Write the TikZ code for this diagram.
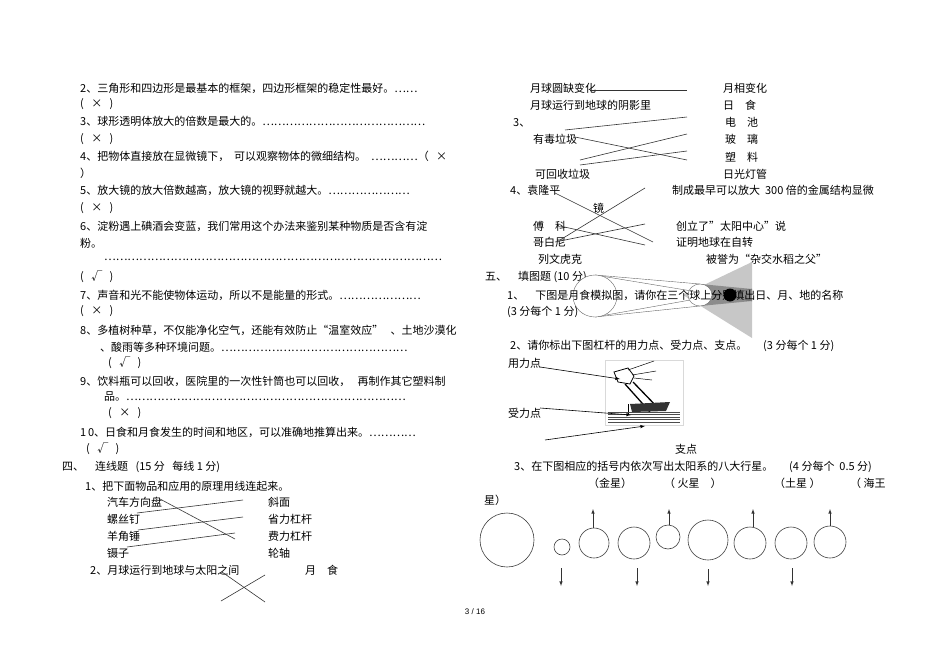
\documentclass[tikz,border=0pt]{standalone}
\usepackage{fontspec}
\setmainfont{Liberation Sans}
\newfontfamily\cjk{Noto Sans CJK SC}
\newcommand{\bx}[1]{(\ \ \ #1\ \ \ )}
\begin{document}
\begin{tikzpicture}[x=1pt,y=-1pt,
  t/.style={anchor=west,inner sep=0pt,font=\cjk\fontsize{11}{12}\selectfont},
  pl/.style={draw=black!80,line width=0.6pt},
  ar/.style={->,>=latex,line width=0.6pt}]
\useasboundingbox (0,0) rectangle (950,658);
% left column
\node[t] (a1) at (80,88) {2、三角形和四边形是最基本的框架，四边形框架的稳定性最好。……};
\node[t] (a2) at (80,104) {\bx{×}};
\node[t] (a3) at (80,121) {3、球形透明体放大的倍数是最大的。……………………………………};
\node[t] (a4) at (80,139) {\bx{×}};
\node[t] (a5) at (80,156) {4、把物体直接放在显微镜下，\ \ 可以观察物体的微细结构。\ \ …………（\ \ \ ×};
\node[t] (a6) at (80,173) {）};
\node[t] (a7) at (80,190) {5、放大镜的放大倍数越高，放大镜的视野就越大。…………………};
\node[t] (a8) at (80,208) {\bx{×}};
\node[t] (a9) at (80,226) {6、淀粉遇上碘酒会变蓝，我们常用这个办法来鉴别某种物质是否含有淀};
\node[t] (a10) at (80,243) {粉。};
\node[t] (a11) at (104,260) {……………………………………………………………………………};
\node[t] (a12) at (80,277) {\bx{√}};
\node[t] (a13) at (80,295) {7、声音和光不能使物体运动，所以不是能量的形式。…………………};
\node[t] (a14) at (80,311) {\bx{×}};
\node[t] (a15) at (80,330) {8、多植树种草，不仅能净化空气，还能有效防止“温室效应”\ \ \ 、土地沙漠化};
\node[t] (a16) at (100,347) {、酸雨等多种环境问题。…………………………………………};
\node[t] (a17) at (108,363) {\bx{√}};
\node[t] (a18) at (80,381) {9、饮料瓶可以回收，医院里的一次性针筒也可以回收，\ \ \ 再制作其它塑料制};
\node[t] (a19) at (104,397) {品。………………………………………………………………};
\node[t] (a20) at (108,413) {\bx{×}};
\node[t] (a21) at (80,432) {1\,0、日食和月食发生的时间和地区，可以准确地推算出来。…………};
\node[t] (a22) at (86,449) {\bx{√}};
\node[t] (s4) at (62,467) {四、\quad 连线题\ \ \ (15 分\ \ \ 每线 1 分)};
\node[t] (q41) at (85,486) {1、把下面物品和应用的原理用线连起来。};
\node[t] (l1) at (107,502) {汽车方向盘};
\node[t] (l2) at (107,519) {螺丝钉};
\node[t] (l3) at (107,536) {羊角锤};
\node[t] (l4) at (107,553) {镊子};
\node[t] (r1) at (268,502) {斜面};
\node[t] (r2) at (268,519) {省力杠杆};
\node[t] (r3) at (268,536) {费力杠杆};
\node[t] (r4) at (268,553) {轮轴};
\node[t] (q42) at (90,570) {2、月球运行到地球与太阳之间};
\node[t] (yue) at (305,570) {月\quad 食};
\draw[pl] (160,499) -- (235,539);
\draw[pl] (137,513) -- (243,500);
\draw[pl] (138,530) -- (243,517);
\draw[pl] (127,547) -- (235,533);
\draw[pl] (222,572) -- (265,602);
\draw[pl] (221,601) -- (265,575);
% right column
\node[t] (b1) at (530,88) {月球圆缺变化};
\node[t] (b2) at (530,105) {月球运行到地球的阴影里};
\node[t] (c1) at (723,88) {月相变化};
\node[t] (c2) at (723,105) {日\quad 食};
\draw[pl] (590,90) -- (687,90);
\node[t] (b3) at (513,123) {3、};
\node[t] (b4) at (533,139) {有毒垃圾};
\node[t] (b5) at (535,174) {可回收垃圾};
\node[t] (c3) at (725,122) {电\quad 池};
\node[t] (c4) at (725,139) {玻\quad 璃};
\node[t] (c5) at (725,157) {塑\quad 料};
\node[t] (c6) at (723,174) {日光灯管};
\draw[pl] (565,130) -- (687,117);
\draw[pl] (575,137) -- (687,160);
\draw[pl] (580,160) -- (687,134);
\draw[pl] (580,165) -- (687,151);
\node[t] (b6) at (510,190) {4、袁隆平};
\node[t] (b7) at (593,208) {镜};
\node[t] (b8) at (533,226) {傅\quad 科};
\node[t] (b9) at (533,242) {哥白尼};
\node[t] (b10) at (538,259) {列文虎克};
\node[t] (c7) at (672,190) {制成最早可以放大\ \ 300 倍的金属结构显微};
\node[t] (c8) at (676,226) {创立了”太阳中心”说};
\node[t] (c9) at (676,242) {证明地球在自转};
\node[t] (c10) at (706,259) {被誉为“杂交水稻之父”};
\draw[pl] (555,193) -- (653,242);
\draw[pl] (560,240) -- (645,188);
\draw[pl] (560,226) -- (645,245);
\draw[pl] (555,242) -- (645,224);
\node[t] (s5) at (485,277) {五、\quad 填图题 (10 分)};
% eclipse
\fill[black!22] (683,295) -- (752,262) -- (752,338) -- cycle;
\fill[black!45] (700,284) -- (752,289) -- (752,301) -- (700,306) -- cycle;
\draw[black!60,line width=0.4pt] (595,275) -- (700,284);
\draw[black!60,line width=0.4pt] (595,317) -- (700,306);
\draw[black!60,line width=0.4pt] (595,275) -- (752,301);
\draw[black!60,line width=0.4pt] (595,317) -- (752,289);
\filldraw[fill=white,draw=black!60] (595,296) ellipse (22 and 21);
\filldraw[fill=white,draw=black!60] (700,295) ellipse (12 and 11);
\fill (730,295) circle (6.5);
\node[t] (q51) at (507,295) {1、\quad 下图是月食模拟图，请你在三个球上分别填出日、月、地的名称};
\node[t] (q51b) at (507,312) {(3 分每个 1 分)};
\node[t] (q52) at (510,346) {2、请你标出下图杠杆的用力点、受力点、支点。\quad\ \ (3 分每个 1 分)};
% lever picture
\draw[black!15] (605,360) rectangle (683,425);
\draw[line width=0.8pt,fill=white] (614,372) -- (628,368) -- (634,376) -- (630,384) -- (618,382) -- cycle;
\draw[line width=0.5pt] (628,370) -- (654,361);
\draw[line width=0.5pt] (632,375) -- (656,371);
\draw[line width=0.5pt] (634,378) -- (652,380);
\draw[line width=1.3pt] (625,384) -- (650,412);
\draw[line width=1.3pt] (633,382) -- (660,410);
\fill[black!80] (630,404) -- (670,402) -- (666,411) -- (632,412) -- cycle;
\draw[line width=0.8pt] (628,404) -- (628,414);
\foreach \yy in {412,414.5,417,419.5,422} \draw[black!70] (608,\yy) -- (680,\yy);
\node[t] (yl) at (508,363) {用力点};
\node[t] (sl) at (508,413) {受力点};
\node[t] (zd) at (675,449) {支点};
\draw[ar] (540,367) -- (620,379);
\draw[ar] (540,408) -- (631,415);
\draw[ar] (545,440) -- (645,426);
% planets
\node[t] (q53) at (514,467) {3、在下图相应的括号内依次写出太阳系的八大行星。\quad\ \ (4 分每个\ \ 0.5 分)};
\node[t] (p1) at (588,483) {（金星）};
\node[t] (p2) at (664,483) {（\ 火星\quad ）};
\node[t] (p3) at (774,483) {（土星\ ）};
\node[t] (p4) at (850,483) {（\ 海王};
\node[t] (p5) at (484,500) {星）};
\foreach \cx/\cy/\r in {507/540/27,562/547/8,594/543/15,634/543/16,668/537/12,708/540/20,750/543/16,791/543/16,830/542/16}
  \draw[black!75,line width=0.6pt] (\cx,\cy) circle (\r);
\foreach \xx/\yy in {593/528,669/525,753/527,830/526} \draw[ar,black!80] (\xx,\yy) -- (\xx,509);
\foreach \xx/\yy in {561/568,637/568,708/569,792/568} \draw[ar,black!80] (\xx,\yy) -- (\xx,586);
\node[anchor=center,font=\fontsize{8}{9}\selectfont] (pg) at (475,612) {3 / 16};
\end{tikzpicture}
\end{document}
